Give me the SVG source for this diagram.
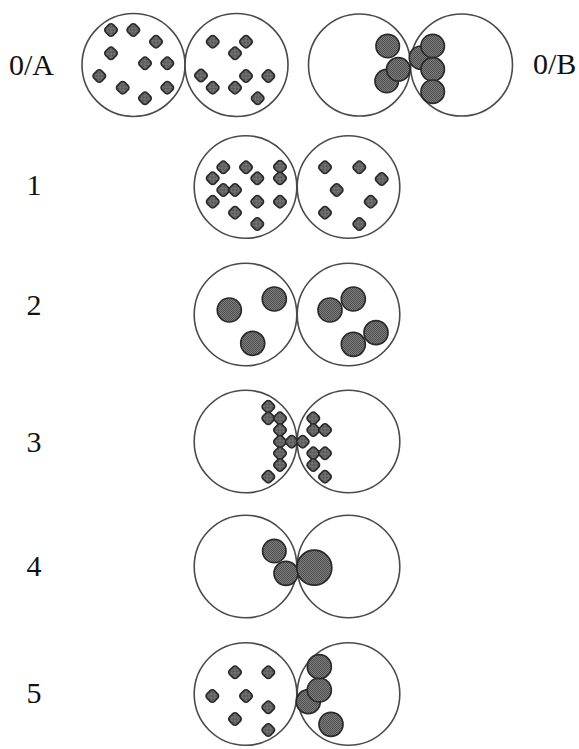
<svg xmlns="http://www.w3.org/2000/svg" xmlns:xlink="http://www.w3.org/1999/xlink" width="579" height="749" viewBox="0 0 579 749">
  <style>
    .lbl { font-family: "Liberation Serif", "Times New Roman", serif; font-size: 30px; fill: #111; }
    .cell { fill: none; stroke: #4a4a4a; stroke-width: 1.6; }
    .big { fill: url(#stip); stroke: #2a2a2a; stroke-width: 1.7; }
  </style>
  <defs>
    <!-- halftone stipple used inside every particle -->
    <pattern id="stip" width="2" height="2" patternUnits="userSpaceOnUse">
      <rect width="2" height="2" fill="#7e7e7e"/>
      <rect width="1" height="1" fill="#4e4e4e"/>
      <rect x="1" y="1" width="1" height="1" fill="#4e4e4e"/>
    </pattern>
    <!-- small particle: rounded diamond -->
    <g id="s">
      <rect x="-5.25" y="-5.25" width="10.5" height="10.5" rx="3" transform="rotate(45)" fill="url(#stip)" stroke="#2a2a2a" stroke-width="1.7"/>
    </g>
  </defs>

  <rect width="579" height="749" fill="#fff"/>

  <!-- row labels -->
  <g id="labels">
    <text class="lbl" x="9" y="75">0/A</text>
    <text class="lbl" x="533" y="74">0/B</text>
    <text class="lbl" x="34" y="195" text-anchor="middle">1</text>
    <text class="lbl" x="34" y="315" text-anchor="middle">2</text>
    <text class="lbl" x="34" y="452" text-anchor="middle">3</text>
    <text class="lbl" x="34" y="576" text-anchor="middle">4</text>
    <text class="lbl" x="34" y="703" text-anchor="middle">5</text>
  </g>

  <!-- state 0/A -->
  <g id="state-0A">
    <circle class="cell" cx="133.5" cy="65" r="51.5"/>
    <circle class="cell" cx="236.5" cy="65" r="51.5"/>
    <use xlink:href="#s" x="111" y="30"/>
    <use xlink:href="#s" x="133.3" y="30"/>
    <use xlink:href="#s" x="156" y="41.7"/>
    <use xlink:href="#s" x="111" y="53.3"/>
    <use xlink:href="#s" x="145" y="63.3"/>
    <use xlink:href="#s" x="167.3" y="63.3"/>
    <use xlink:href="#s" x="99.3" y="76"/>
    <use xlink:href="#s" x="122.7" y="87.7"/>
    <use xlink:href="#s" x="167.3" y="87.7"/>
    <use xlink:href="#s" x="145" y="98.3"/>
    <use xlink:href="#s" x="212.7" y="41.7"/>
    <use xlink:href="#s" x="246" y="41.7"/>
    <use xlink:href="#s" x="235" y="53.3"/>
    <use xlink:href="#s" x="201" y="75.5"/>
    <use xlink:href="#s" x="246" y="76"/>
    <use xlink:href="#s" x="268.3" y="76"/>
    <use xlink:href="#s" x="212.7" y="87.7"/>
    <use xlink:href="#s" x="235" y="87.7"/>
    <use xlink:href="#s" x="257.7" y="98.3"/>
  </g>

  <!-- state 0/B -->
  <g id="state-0B">
    <circle class="cell" cx="359.5" cy="65" r="51"/>
    <circle class="cell" cx="461.5" cy="65" r="51"/>
    <circle class="big" cx="387.7" cy="46" r="11.7"/>
    <circle class="big" cx="386.7" cy="81" r="11.7"/>
    <circle class="big" cx="398.3" cy="69.3" r="11.7"/>
    <circle class="big" cx="421" cy="57.7" r="11.7"/>
    <circle class="big" cx="432.7" cy="46" r="11.7"/>
    <circle class="big" cx="432.7" cy="69.3" r="11.7"/>
    <circle class="big" cx="432.7" cy="91.7" r="11.7"/>
  </g>

  <!-- state 1 -->
  <g id="state-1">
    <circle class="cell" cx="245.5" cy="187" r="51.3"/>
    <circle class="cell" cx="348.5" cy="187" r="51.3"/>
    <use xlink:href="#s" x="223.3" y="167.3"/>
    <use xlink:href="#s" x="246" y="167.3"/>
    <use xlink:href="#s" x="280" y="166.7"/>
    <use xlink:href="#s" x="212.7" y="178.3"/>
    <use xlink:href="#s" x="257.3" y="178.3"/>
    <use xlink:href="#s" x="280" y="178.3"/>
    <use xlink:href="#s" x="223.3" y="190"/>
    <use xlink:href="#s" x="235" y="190"/>
    <use xlink:href="#s" x="212.7" y="201.7"/>
    <use xlink:href="#s" x="257.3" y="201.7"/>
    <use xlink:href="#s" x="280" y="201.7"/>
    <use xlink:href="#s" x="235" y="212.7"/>
    <use xlink:href="#s" x="257.3" y="224"/>
    <use xlink:href="#s" x="325" y="167.3"/>
    <use xlink:href="#s" x="359.3" y="167.3"/>
    <use xlink:href="#s" x="381.7" y="179"/>
    <use xlink:href="#s" x="336.7" y="190"/>
    <use xlink:href="#s" x="370.7" y="201.7"/>
    <use xlink:href="#s" x="325" y="212.7"/>
    <use xlink:href="#s" x="359.3" y="224"/>
  </g>

  <!-- state 2 -->
  <g id="state-2">
    <circle class="cell" cx="245.5" cy="314.5" r="51.3"/>
    <circle class="cell" cx="348.5" cy="314.5" r="51.3"/>
    <circle class="big" cx="229.3" cy="310" r="12"/>
    <circle class="big" cx="274.3" cy="299" r="12"/>
    <circle class="big" cx="252.7" cy="343.3" r="12"/>
    <circle class="big" cx="330" cy="310" r="12"/>
    <circle class="big" cx="353.3" cy="299" r="12"/>
    <circle class="big" cx="376" cy="332.7" r="12"/>
    <circle class="big" cx="353.3" cy="344.3" r="12"/>
  </g>

  <!-- state 3 -->
  <g id="state-3">
    <circle class="cell" cx="245.5" cy="441.5" r="51.3"/>
    <circle class="cell" cx="348.5" cy="441.5" r="51.3"/>
    <use xlink:href="#s" x="268.3" y="406.7"/>
    <use xlink:href="#s" x="268.3" y="418.3"/>
    <use xlink:href="#s" x="280" y="418.3"/>
    <use xlink:href="#s" x="280" y="430"/>
    <use xlink:href="#s" x="280" y="441.7"/>
    <use xlink:href="#s" x="291.7" y="441.7"/>
    <use xlink:href="#s" x="280" y="453.3"/>
    <use xlink:href="#s" x="280" y="465"/>
    <use xlink:href="#s" x="268.3" y="476.7"/>
    <use xlink:href="#s" x="302.7" y="441.7"/>
    <use xlink:href="#s" x="313.3" y="418.3"/>
    <use xlink:href="#s" x="313.3" y="430"/>
    <use xlink:href="#s" x="325" y="430"/>
    <use xlink:href="#s" x="313.3" y="453.3"/>
    <use xlink:href="#s" x="325" y="453.3"/>
    <use xlink:href="#s" x="313.3" y="465"/>
    <use xlink:href="#s" x="325" y="476.7"/>
  </g>

  <!-- state 4 -->
  <g id="state-4">
    <circle class="cell" cx="245.5" cy="566.5" r="51.3"/>
    <circle class="cell" cx="348.5" cy="566.5" r="51.3"/>
    <circle class="big" cx="274.3" cy="551" r="11.7"/>
    <circle class="big" cx="286" cy="573.3" r="12"/>
    <circle class="big" cx="314.3" cy="567.7" r="17.5"/>
  </g>

  <!-- state 5 -->
  <g id="state-5">
    <circle class="cell" cx="245.5" cy="694" r="51.3"/>
    <circle class="cell" cx="348.5" cy="694" r="51.3"/>
    <use xlink:href="#s" x="235" y="672.3"/>
    <use xlink:href="#s" x="268.3" y="672.3"/>
    <use xlink:href="#s" x="212.3" y="696"/>
    <use xlink:href="#s" x="246" y="696"/>
    <use xlink:href="#s" x="268.3" y="707.3"/>
    <use xlink:href="#s" x="235" y="719"/>
    <use xlink:href="#s" x="268.3" y="730"/>
    <circle class="big" cx="308.3" cy="701.7" r="12"/>
    <circle class="big" cx="319.3" cy="690" r="12"/>
    <circle class="big" cx="319.3" cy="666.7" r="12"/>
    <circle class="big" cx="331" cy="724.3" r="12"/>
  </g>
</svg>
